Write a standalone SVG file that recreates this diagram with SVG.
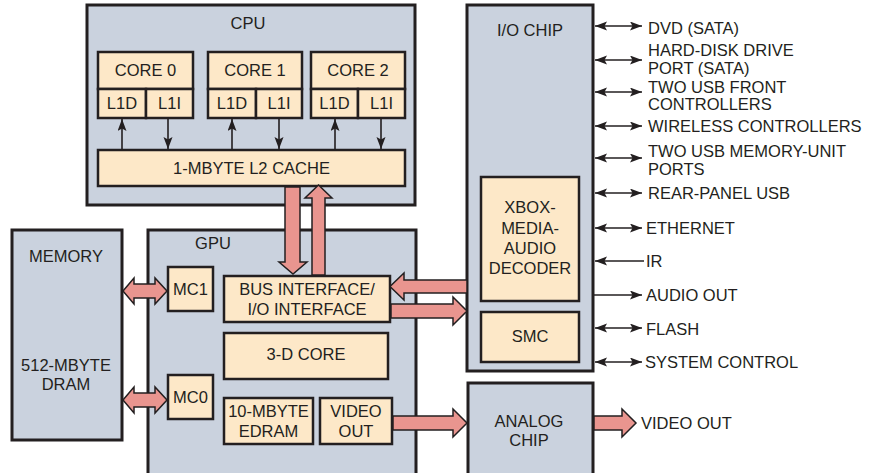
<svg xmlns="http://www.w3.org/2000/svg" width="878" height="473" viewBox="0 0 878 473">
<style>
.chip{fill:#cad2de;stroke:#231f20;stroke-width:3}
.blk{fill:#fde8c8;stroke:#231f20;stroke-width:2.5}
text{font-family:"Liberation Sans",Arial,Helvetica,sans-serif;font-size:16.5px;fill:#231f20;text-anchor:middle}
.lbl{text-anchor:start}
.fat{fill:#e9958f;stroke:#231f20;stroke-width:1.5;stroke-linejoin:miter}
.thin{stroke:#231f20;stroke-width:1.6;fill:none}
</style>
<defs>
<marker id="ah" markerUnits="userSpaceOnUse" markerWidth="13" markerHeight="10" refX="12" refY="4.5" orient="auto-start-reverse">
<path d="M0,0 L12,4.5 L0,9 L2.5,4.5 z" fill="#231f20"/>
</marker>
</defs>
<rect width="878" height="473" fill="#ffffff"/>

<g id="cpu">
<rect class="chip" x="87" y="5" width="328" height="200"/>
<text x="248" y="29">CPU</text>
</g>
<g id="core0">
<rect class="blk" x="98" y="52" width="95" height="37"/>
<text x="145.5" y="76">CORE 0</text>
<rect class="blk" x="98" y="89" width="48" height="29"/>
<text x="122" y="109">L1D</text>
<rect class="blk" x="146" y="89" width="47" height="29"/>
<text x="169.5" y="109">L1I</text>
</g>
<g id="core1">
<rect class="blk" x="208" y="52" width="94" height="37"/>
<text x="255" y="76">CORE 1</text>
<rect class="blk" x="208" y="89" width="48" height="29"/>
<text x="232" y="109">L1D</text>
<rect class="blk" x="256" y="89" width="46" height="29"/>
<text x="279" y="109">L1I</text>
</g>
<g id="core2">
<rect class="blk" x="311" y="52" width="94" height="37"/>
<text x="358" y="76">CORE 2</text>
<rect class="blk" x="311" y="89" width="47" height="29"/>
<text x="334.5" y="109">L1D</text>
<rect class="blk" x="358" y="89" width="47" height="29"/>
<text x="381.5" y="109">L1I</text>
</g>
<g id="l2">
<rect class="blk" x="98" y="150" width="307" height="36"/>
<text x="251.5" y="174">1-MBYTE L2 CACHE</text>
</g>

<g id="memory">
<rect class="chip" x="12" y="230" width="110" height="210"/>
<text x="66" y="262">MEMORY</text>
<text x="66" y="371">512-MBYTE</text>
<text x="66" y="390">DRAM</text>
</g>

<g id="gpu">
<rect class="chip" x="148" y="230" width="268" height="246"/>
<text x="213" y="249">GPU</text>
</g>
<g id="mc1">
<rect class="blk" x="168" y="267" width="45" height="44"/>
<text x="190.5" y="295">MC1</text>
</g>
<g id="mc0">
<rect class="blk" x="168" y="375" width="45" height="44"/>
<text x="190.5" y="403">MC0</text>
</g>
<g id="bus">
<rect class="blk" x="224" y="276" width="166" height="46"/>
<text x="307" y="295">BUS INTERFACE/</text>
<text x="307" y="315">I/O INTERFACE</text>
</g>
<g id="core3d">
<rect class="blk" x="224" y="333" width="164" height="46"/>
<text x="306" y="360">3-D CORE</text>
</g>
<g id="edram">
<rect class="blk" x="224" y="398" width="89" height="46"/>
<text x="268.5" y="417">10-MBYTE</text>
<text x="268.5" y="437">EDRAM</text>
</g>
<g id="videoout">
<rect class="blk" x="320" y="398" width="72" height="46"/>
<text x="356" y="417">VIDEO</text>
<text x="356" y="437">OUT</text>
</g>

<g id="iochip">
<rect class="chip" x="467" y="5" width="126" height="366"/>
<text x="530" y="36">I/O CHIP</text>
</g>
<g id="xbox">
<rect class="blk" x="481" y="177" width="98" height="124"/>
<text x="530" y="213">XBOX-</text>
<text x="530" y="234">MEDIA-</text>
<text x="530" y="254">AUDIO</text>
<text x="530" y="274">DECODER</text>
</g>
<g id="smc">
<rect class="blk" x="481" y="312" width="98" height="50"/>
<text x="530" y="342">SMC</text>
</g>

<g id="analog">
<rect class="chip" x="468" y="383" width="125" height="93"/>
<text x="529" y="427">ANALOG</text>
<text x="529" y="446">CHIP</text>
</g>

<g id="labels">
<text class="lbl" x="648" y="34">DVD (SATA)</text>
<text class="lbl" x="648" y="56">HARD-DISK DRIVE</text>
<text class="lbl" x="648" y="74">PORT (SATA)</text>
<text class="lbl" x="648" y="93">TWO USB FRONT</text>
<text class="lbl" x="648" y="110">CONTROLLERS</text>
<text class="lbl" x="648" y="132">WIRELESS CONTROLLERS</text>
<text class="lbl" x="648" y="156.5">TWO USB MEMORY-UNIT</text>
<text class="lbl" x="648" y="174.5">PORTS</text>
<text class="lbl" x="648" y="199">REAR-PANEL USB</text>
<text class="lbl" x="646" y="234">ETHERNET</text>
<text class="lbl" x="646" y="267">IR</text>
<text class="lbl" x="646" y="301">AUDIO OUT</text>
<text class="lbl" x="646" y="335">FLASH</text>
<text class="lbl" x="645" y="368">SYSTEM CONTROL</text>
<text class="lbl" x="641" y="429">VIDEO OUT</text>
</g>

<g id="connectors">
<line class="thin" x1="122" y1="150" x2="122" y2="119" marker-end="url(#ah)"/>
<line class="thin" x1="168" y1="118" x2="168" y2="149" marker-end="url(#ah)"/>
<line class="thin" x1="232" y1="150" x2="232" y2="119" marker-end="url(#ah)"/>
<line class="thin" x1="279" y1="118" x2="279" y2="149" marker-end="url(#ah)"/>
<line class="thin" x1="335" y1="150" x2="335" y2="119" marker-end="url(#ah)"/>
<line class="thin" x1="381" y1="118" x2="381" y2="149" marker-end="url(#ah)"/>

<line class="thin" x1="595" y1="26" x2="642" y2="26" marker-start="url(#ah)" marker-end="url(#ah)"/>
<line class="thin" x1="595" y1="60" x2="642" y2="60" marker-start="url(#ah)" marker-end="url(#ah)"/>
<line class="thin" x1="595" y1="92" x2="642" y2="92" marker-start="url(#ah)" marker-end="url(#ah)"/>
<line class="thin" x1="595" y1="126" x2="642" y2="126" marker-start="url(#ah)" marker-end="url(#ah)"/>
<line class="thin" x1="595" y1="158" x2="642" y2="158" marker-start="url(#ah)" marker-end="url(#ah)"/>
<line class="thin" x1="595" y1="193" x2="642" y2="193" marker-start="url(#ah)" marker-end="url(#ah)"/>
<line class="thin" x1="595" y1="228" x2="642" y2="228" marker-start="url(#ah)" marker-end="url(#ah)"/>
<line class="thin" x1="644" y1="261" x2="595" y2="261" marker-end="url(#ah)"/>
<line class="thin" x1="594" y1="295" x2="642" y2="295" marker-end="url(#ah)"/>
<line class="thin" x1="595" y1="328" x2="642" y2="328" marker-start="url(#ah)" marker-end="url(#ah)"/>
<line class="thin" x1="595" y1="362" x2="642" y2="362" marker-start="url(#ah)" marker-end="url(#ah)"/>

<polygon class="fat" points="285,187 300,187 300,262 307,262 293,274 279,262 285,262"/>
<polygon class="fat" points="312,275 325,275 325,198 332,198 318.5,185 305,198 312,198"/>
<polygon class="fat" points="467,280 404,280 404,273 390,286.5 404,300 404,293 467,293"/>
<polygon class="fat" points="391,304 453,304 453,297 467,311 453,325 453,318 391,318"/>
<polygon class="fat" points="393,416 453,416 453,409 467,423 453,437 453,430 393,430"/>
<polygon class="fat" points="594,416 622,416 622,409 636,423 622,437 622,430 594,430"/>
<polygon class="fat" points="123,291 134,278 134,284 155,284 155,278 167,291 155,304 155,298 134,298 134,304"/>
<polygon class="fat" points="123,400 134,387 134,393 155,393 155,387 167,400 155,413 155,407 134,407 134,413"/>
</g>
</svg>
